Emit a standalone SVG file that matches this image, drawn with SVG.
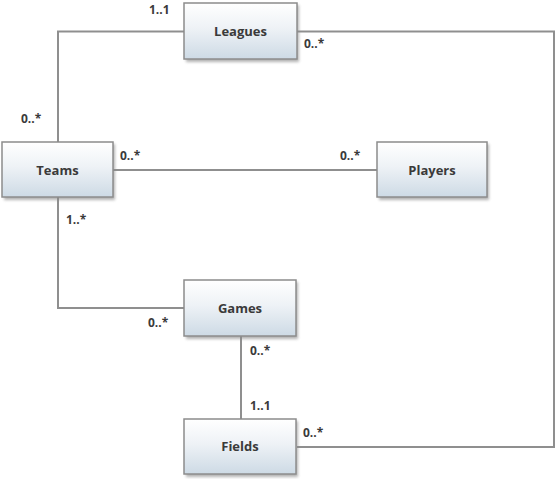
<svg xmlns="http://www.w3.org/2000/svg" width="557" height="479" viewBox="0 0 557 479">
<defs>
<linearGradient id="g" x1="0" y1="0" x2="0" y2="1">
<stop offset="0" stop-color="#ffffff"/>
<stop offset="0.45" stop-color="#eef2f6"/>
<stop offset="1" stop-color="#cddae5"/>
</linearGradient>
<filter id="sh" x="-10%" y="-10%" width="130%" height="140%">
<feGaussianBlur stdDeviation="1.5"/>
</filter>
</defs>
<style>
.box{fill:url(#g);stroke:#8c8c8c;stroke-width:1.5}
.shadow{fill:#8a8a8a;opacity:0.65;filter:url(#sh)}
.name{font-family:"Open Sans","Noto Sans",sans-serif;font-weight:700;font-size:13px;fill:#3a3a3a;text-anchor:middle}
.lbl{font-family:"Open Sans","Noto Sans",sans-serif;font-weight:700;font-size:12px;fill:#3a3a3a}
.conn{fill:none;stroke:#8f8f8f;stroke-width:2}
</style>
<rect width="557" height="479" fill="#ffffff"/>
<g id="connectors">
<polyline class="conn" points="184,31.5 58,31.5 58,142"/>
<polyline class="conn" points="297,31.5 554,31.5 554,447 297,447"/>
<line class="conn" x1="113" y1="170" x2="377" y2="170"/>
<polyline class="conn" points="58,197 58,308 184,308"/>
<line class="conn" x1="241" y1="336" x2="241" y2="419"/>
</g>
<g id="labels">
<text class="lbl" x="149" y="14">1..1</text>
<text class="lbl" x="304" y="48">0..*</text>
<text class="lbl" x="21" y="123">0..*</text>
<text class="lbl" x="120" y="160">0..*</text>
<text class="lbl" x="340" y="160">0..*</text>
<text class="lbl" x="66" y="224">1..*</text>
<text class="lbl" x="148" y="327">0..*</text>
<text class="lbl" x="250" y="355">0..*</text>
<text class="lbl" x="250" y="410">1..1</text>
<text class="lbl" x="303" y="437">0..*</text>
</g>
<g id="leagues">
<rect class="shadow" x="186" y="5" width="113" height="57"/>
<rect class="box" x="184" y="3" width="113" height="56"/>
<text class="name" x="240.5" y="36">Leagues</text>
</g>
<g id="teams">
<rect class="shadow" x="4" y="144" width="111" height="56"/>
<rect class="box" x="2" y="142" width="111" height="55"/>
<text class="name" x="57.5" y="175">Teams</text>
</g>
<g id="players">
<rect class="shadow" x="379" y="144" width="110" height="56"/>
<rect class="box" x="377" y="142" width="110" height="55"/>
<text class="name" x="432" y="175">Players</text>
</g>
<g id="games">
<rect class="shadow" x="186" y="282" width="112" height="57"/>
<rect class="box" x="184" y="280" width="112" height="56"/>
<text class="name" x="240" y="313">Games</text>
</g>
<g id="fields">
<rect class="shadow" x="186" y="421" width="112" height="56"/>
<rect class="box" x="184" y="419" width="112" height="55"/>
<text class="name" x="240" y="451">Fields</text>
</g>
</svg>
